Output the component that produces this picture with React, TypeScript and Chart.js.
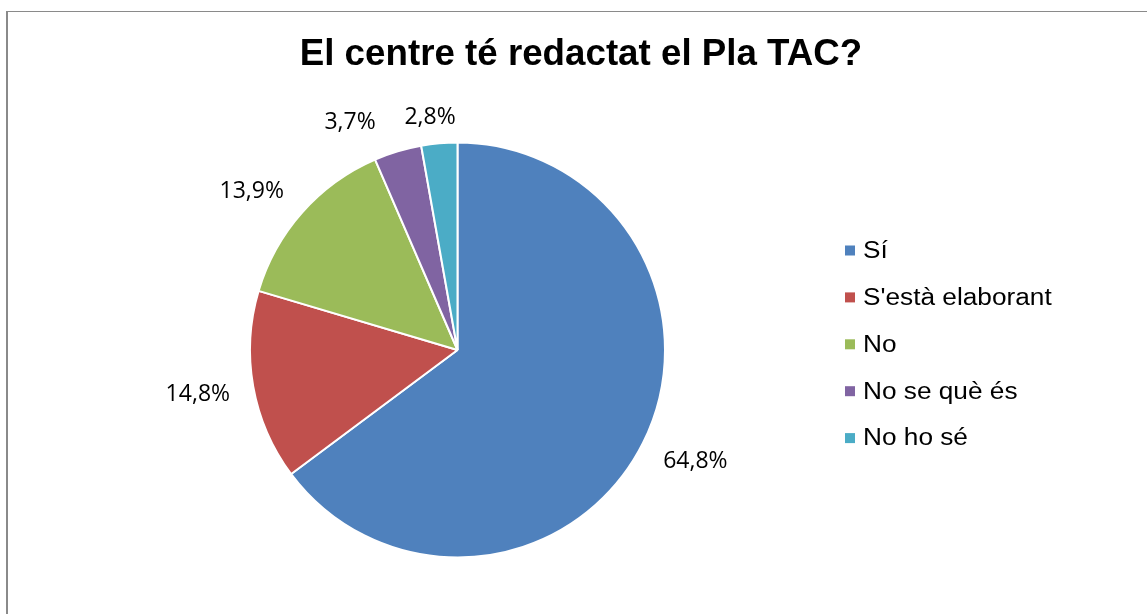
import React, { useEffect, useRef } from "react";
import { Chart, registerables } from "chart.js";

Chart.register(...registerables);

const categories = ["Sí", "S'està elaborant", "No", "No se què és", "No ho sé"];
const values = [64.8, 14.8, 13.9, 3.7, 2.8];
const valueLabels = ["64,8%", "14,8%", "13,9%", "3,7%", "2,8%"];
const colors = ["#4F81BD", "#C0504D", "#9BBB59", "#8064A2", "#4BACC6"];
const titleText = "El centre té redactat el Pla TAC?";

// label nudges (styling only)
const labelNudge = [
  [4, 4],
  [-2, 3],
  [-10, 0],
  [-34, 2],
  [-5, 6],
];

const CANVAS_W = 1139;
const CANVAS_H = 602;

const drawPlugin = {
  id: "customDraw",
  afterDraw(chart: any) {
    const ctx = chart.ctx;
    ctx.save();
    // title
    ctx.fillStyle = "#000";
    ctx.font = "bold 36px 'Liberation Sans', Arial, sans-serif";
    ctx.textAlign = "center";
    ctx.textBaseline = "alphabetic";
    ctx.save();
    ctx.translate(573, 53);
    ctx.scale(1.02, 1);
    ctx.fillText(titleText, 0, 0);
    ctx.restore();

    // data labels
    const meta = chart.getDatasetMeta(0);
    ctx.font = "23px 'Open Sans', sans-serif";
    ctx.fillStyle = "#000";
    meta.data.forEach((arc: any, i: number) => {
      const p = arc.getProps(["x", "y", "startAngle", "endAngle", "outerRadius"], true);
      const mid = (p.startAngle + p.endAngle) / 2;
      const r = p.outerRadius + 22;
      const txt = valueLabels[i];
      const w = ctx.measureText(txt).width;
      const h = 20;
      const x = p.x + Math.cos(mid) * r + (Math.cos(mid) * w) / 2 + labelNudge[i][0];
      const y = p.y + Math.sin(mid) * r + (Math.sin(mid) * h) / 2 + labelNudge[i][1];
      ctx.textAlign = "center";
      ctx.textBaseline = "middle";
      ctx.fillText(txt, x, y);
    });

    // legend
    ctx.font = "23px 'Liberation Sans', Arial, sans-serif";
    ctx.textAlign = "left";
    ctx.textBaseline = "middle";
    const lx = 837;
    const ly0 = 238.5;
    const step = 46.9;
    chart.data.labels.forEach((lab: string, i: number) => {
      const y = ly0 + i * step;
      ctx.fillStyle = colors[i];
      ctx.fillRect(lx, y - 5, 10, 10);
      ctx.fillStyle = "#000";
      ctx.save();
      ctx.translate(lx + 18, y + 1);
      ctx.scale(1.14, 1);
      ctx.fillText(lab, 0, 0);
      ctx.restore();
    });
    ctx.restore();
  },
};

export default function App() {
  const ref = useRef<HTMLCanvasElement>(null);
  useEffect(() => {
    if (!ref.current) return;
    const chart = new Chart(ref.current, {
      type: "pie",
      data: {
        labels: categories,
        datasets: [
          {
            data: values,
            backgroundColor: colors,
            borderColor: "#ffffff",
            borderWidth: 2,
          },
        ],
      },
      options: {
        animation: false,
        responsive: false,
        rotation: 0,
        layout: {
          padding: { left: 241, right: 481, top: 129, bottom: 55 },
        },
        plugins: {
          legend: { display: false },
          title: { display: false },
          tooltip: { enabled: false },
        },
      },
      plugins: [drawPlugin],
    });
    return () => chart.destroy();
  }, []);
  return (
    <div
      style={{
        position: "fixed",
        left: 6,
        top: 11,
        width: 1300,
        height: 800,
        borderLeft: "2px solid #8a8a8a",
        borderTop: "1px solid #8a8a8a",
        background: "#fff",
      }}
    >
      <canvas
        ref={ref}
        width={CANVAS_W}
        height={CANVAS_H}
        style={{ display: "block", width: CANVAS_W, height: CANVAS_H }}
      />
    </div>
  );
}
